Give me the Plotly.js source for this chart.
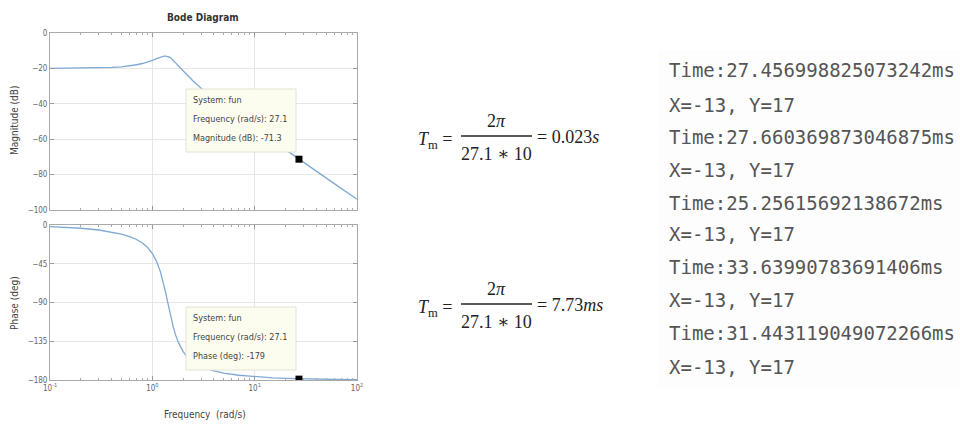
<!DOCTYPE html>
<html>
<head>
<meta charset="utf-8">
<script src="https://cdn.plot.ly/plotly-3.0.1.min.js"></script>
<style>html,body{margin:0;padding:0;background:#fff;}#chart{width:960px;height:430px;}</style>
</head>
<body>
<div id="chart"></div>
<script>
// ---- data ----
var freq     = [0.1, 0.15, 0.2, 0.3, 0.4, 0.5, 0.6, 0.7, 0.8, 0.9, 1.0, 1.1, 1.2, 1.25, 1.3, 1.35, 1.4, 1.45, 1.5, 1.6, 1.7, 1.8, 2.0, 2.2, 2.5, 3, 4, 5, 7, 10, 15, 20, 27.1, 40, 60, 100];
var magDb    = [-19.96, -19.93, -19.88, -19.72, -19.45, -19.1, -18.6, -17.94, -17.24, -16.43, -15.51, -14.53, -13.63, -13.29, -13.07, -13.03, -13.18, -13.52, -14.04, -15.43, -17.02, -18.62, -21.53, -24.03, -27.14, -31.21, -37.05, -41.3, -47.46, -53.82, -60.96, -65.99, -71.28, -78.05, -85.1, -93.98];
var phaseDeg = [-1.9, -2.8, -3.8, -5.8, -8.1, -10.5, -13.4, -16.8, -20.9, -26.2, -33.1, -42.2, -54.4, -61.7, -69.9, -78.6, -87.5, -96.2, -104.4, -118.3, -128.8, -136.6, -147.0, -153.3, -159.1, -164.4, -169.5, -172.0, -174.5, -176.2, -177.5, -178.1, -178.6, -179.1, -179.4, -179.6];
var tipFreq  = [27.1];
var tipMag   = [-71.3];
var tipPhase = [-179];
var xTickVals = [0.1, 1, 10, 100];
var xTickText = ['10<sup>-1</sup>', '10<sup>0</sup>', '10<sup>1</sup>', '10<sup>2</sup>'];
var magTicks = [0, -20, -40, -60, -80, -100];
var phaseTicks = [0, -45, -90, -135, -180];
var consoleLines = [
  'Time:27.456998825073242ms', 'X=-13, Y=17',
  'Time:27.660369873046875ms', 'X=-13, Y=17',
  'Time:25.25615692138672ms',  'X=-13, Y=17',
  'Time:33.63990783691406ms',  'X=-13, Y=17',
  'Time:31.443119049072266ms', 'X=-13, Y=17'
];

// ---- layout helpers ----
var W = 960, H = 430;
function px(x){ return x / W; }
function py(y){ return 1 - y / H; }
var narrow = 'Liberation Sans Narrow, Arial Narrow, DejaVu Sans Condensed, sans-serif';
var lineColor = '#7fa9d4';

var minorVals = [];
[0.1, 1, 10].forEach(function(d){ for (var k = 2; k <= 9; k++) minorVals.push(+(d*k).toFixed(3)); });

var xBase = {
  type: 'log', range: [-1, 2], domain: [px(50), px(357)],
  tickmode: 'array', tickvals: xTickVals, ticktext: xTickText,
  ticks: 'inside', ticklen: 4, tickcolor: '#999',
  showline: true, linecolor: '#aaaaaa', linewidth: 1, mirror: 'ticks',
  showgrid: true, gridcolor: '#e6e6e6', zeroline: false,
  tickfont: {family: narrow, size: 8, color: '#666'},
  minor: {tickmode: 'array', tickvals: minorVals, ticks: 'inside', ticklen: 2, tickcolor: '#aaa', showgrid: false},
  fixedrange: true
};
var x1 = Object.assign({}, xBase, {anchor: 'y'});
var x2 = Object.assign({}, xBase, {anchor: 'y2', showticklabels: false, matches: 'x'});

var yBase = {
  ticks: 'inside', ticklen: 4, tickcolor: '#999',
  showline: true, linecolor: '#aaaaaa', linewidth: 1, mirror: 'ticks',
  showgrid: true, gridcolor: '#e6e6e6', zeroline: false,
  tickfont: {family: narrow, size: 8, color: '#666'},
  fixedrange: true
};
var y1 = Object.assign({}, yBase, {anchor: 'x', domain: [py(380), py(225)], range: [-180, 0], tickmode: 'array', tickvals: phaseTicks});
var y2 = Object.assign({}, yBase, {anchor: 'x2', domain: [py(210), py(33)], range: [-100, 0], tickmode: 'array', tickvals: magTicks});

var traces = [
  {x: freq, y: magDb, xaxis: 'x2', yaxis: 'y2', type: 'scatter', mode: 'lines', line: {color: lineColor, width: 1.3}, hoverinfo: 'skip'},
  {x: freq, y: phaseDeg, xaxis: 'x', yaxis: 'y', type: 'scatter', mode: 'lines', line: {color: lineColor, width: 1.3}, hoverinfo: 'skip'},
  {x: tipFreq, y: tipMag, xaxis: 'x2', yaxis: 'y2', type: 'scatter', mode: 'markers', marker: {symbol: 'square', size: 7, color: '#000'}, hoverinfo: 'skip'},
  {x: tipFreq, y: tipPhase, xaxis: 'x', yaxis: 'y', type: 'scatter', mode: 'markers', marker: {symbol: 'square', size: 7, color: '#000'}, hoverinfo: 'skip'}
];

var shapes = [
  // faint console background
  {type: 'rect', xref: 'paper', yref: 'paper', x0: px(658), x1: px(960), y0: py(388), y1: py(50), fillcolor: '#fdfdfd', line: {width: 0}, layer: 'below'},
  // data tip boxes
  {type: 'rect', xref: 'paper', yref: 'paper', x0: px(186), x1: px(296), y0: py(152), y1: py(89), fillcolor: '#fdfdef', line: {color: '#e2e2d4', width: 1}},
  {type: 'rect', xref: 'paper', yref: 'paper', x0: px(186), x1: px(296), y0: py(370), y1: py(307), fillcolor: '#fdfdef', line: {color: '#e2e2d4', width: 1}},
  // fraction bars
  {type: 'line', xref: 'paper', yref: 'paper', x0: px(461), x1: px(532), y0: py(136), y1: py(136), line: {color: '#222', width: 1.6}},
  {type: 'line', xref: 'paper', yref: 'paper', x0: px(461), x1: px(532), y0: py(304), y1: py(304), line: {color: '#222', width: 1.6}}
];

function ann(x, y, text, opts){
  return Object.assign({xref: 'paper', yref: 'paper', x: px(x), y: py(y), text: text, showarrow: false,
    xanchor: 'center', yanchor: 'middle'}, opts || {});
}
var tipFont = {family: narrow, size: 9, color: '#444'};
var eqFont = {family: 'Liberation Serif, DejaVu Serif, serif', size: 18, color: '#222'};

var annotations = [
  ann(203, 17, '<b>Bode Diagram</b>', {font: {family: narrow, size: 10, color: '#333'}}),
  ann(14, 121, 'Magnitude (dB)', {textangle: -90, font: {family: narrow, size: 10, color: '#444'}}),
  ann(14, 303, 'Phase (deg)', {textangle: -90, font: {family: narrow, size: 10, color: '#444'}}),
  ann(205, 414, 'Frequency  (rad/s)', {font: {family: narrow, size: 10, color: '#444'}}),
  // data tips
  ann(191, 100, 'System: fun', {xanchor: 'left', font: tipFont}),
  ann(191, 119, 'Frequency (rad/s): 27.1', {xanchor: 'left', font: tipFont}),
  ann(191, 138, 'Magnitude (dB): -71.3', {xanchor: 'left', font: tipFont}),
  ann(191, 318, 'System: fun', {xanchor: 'left', font: tipFont}),
  ann(191, 337, 'Frequency (rad/s): 27.1', {xanchor: 'left', font: tipFont}),
  ann(191, 356, 'Phase (deg): -179', {xanchor: 'left', font: tipFont}),
  // equation 1
  ann(454, 140, '<i>T</i><sub>m</sub> =', {xanchor: 'right', font: eqFont}),
  ann(496, 121, '2<i>π</i>', {font: eqFont}),
  ann(496, 154, '27.1 ∗ 10', {font: eqFont}),
  ann(535, 137, '= 0.023<i>s</i>', {xanchor: 'left', font: eqFont}),
  // equation 2
  ann(454, 308, '<i>T</i><sub>m</sub> =', {xanchor: 'right', font: eqFont}),
  ann(496, 289, '2<i>π</i>', {font: eqFont}),
  ann(496, 322, '27.1 ∗ 10', {font: eqFont}),
  ann(535, 305, '= 7.73<i>ms</i>', {xanchor: 'left', font: eqFont})
];

consoleLines.forEach(function(t, i){
  var yTop = [70, 105, 137, 170, 203, 234, 267, 300, 333, 367][i];
  annotations.push(ann(667, yTop, t, {xanchor: 'left', font: {family: 'DejaVu Sans Mono, Liberation Mono, monospace', size: 19, color: '#555'}}));
});

var layout = {
  width: W, height: H,
  margin: {l: 0, r: 0, t: 0, b: 0},
  paper_bgcolor: '#fff', plot_bgcolor: '#fff',
  showlegend: false,
  xaxis: x1, xaxis2: x2, yaxis: y1, yaxis2: y2,
  shapes: shapes, annotations: annotations
};

Plotly.newPlot('chart', traces, layout, {displayModeBar: false, staticPlot: true});
</script>
</body>
</html>
